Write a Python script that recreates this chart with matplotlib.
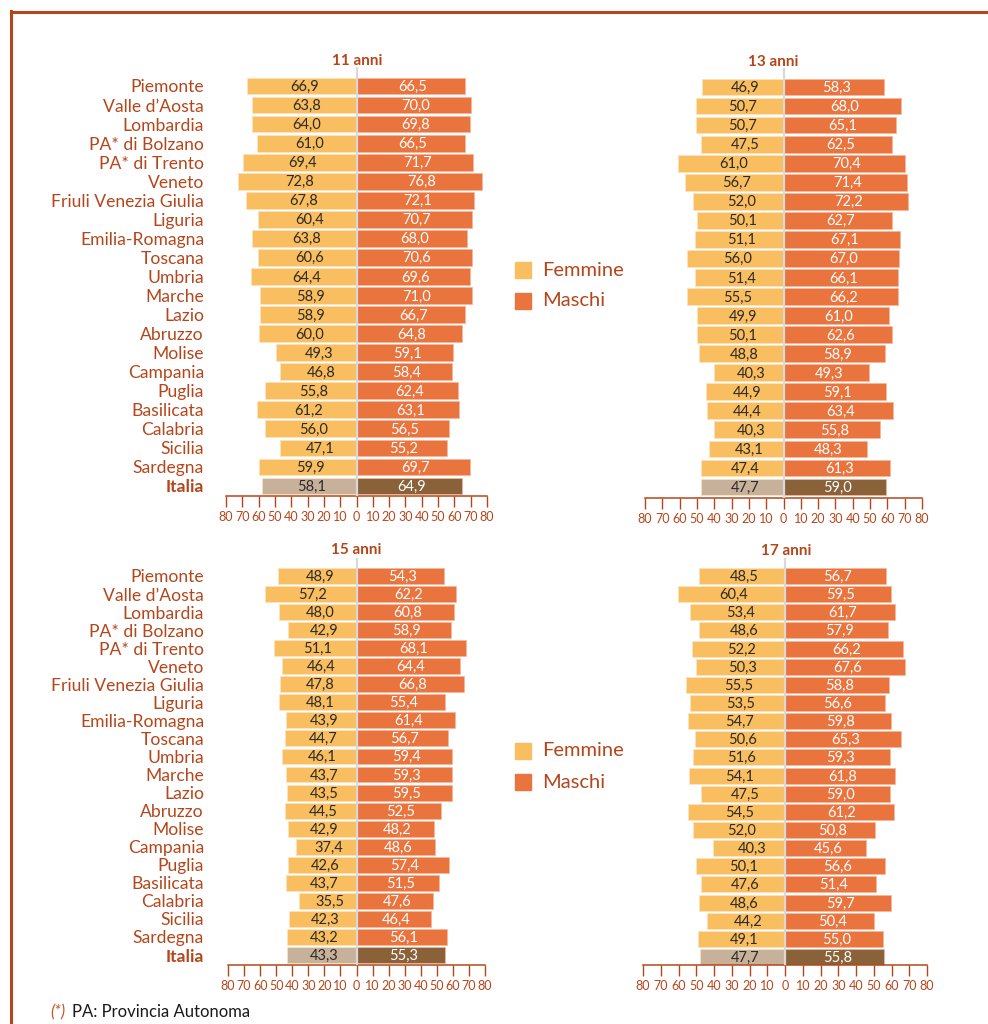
import matplotlib
matplotlib.use("Agg")
import matplotlib.pyplot as plt
from matplotlib.lines import Line2D
from matplotlib.patches import Rectangle

plt.rcParams['font.family'] = ['Lato', 'DejaVu Sans']

regions = ["Piemonte", "Valle d’Aosta", "Lombardia", "PA* di Bolzano", "PA* di Trento",
           "Veneto", "Friuli Venezia Giulia", "Liguria", "Emilia-Romagna", "Toscana",
           "Umbria", "Marche", "Lazio", "Abruzzo", "Molise", "Campania", "Puglia",
           "Basilicata", "Calabria", "Sicilia", "Sardegna", "Italia"]

f11 = [66.9, 63.8, 64.0, 61.0, 69.4, 72.8, 67.8, 60.4, 63.8, 60.6, 64.4, 58.9, 58.9, 60.0,
       49.3, 46.8, 55.8, 61.2, 56.0, 47.1, 59.9, 58.1]
m11 = [66.5, 70.0, 69.8, 66.5, 71.7, 76.8, 72.1, 70.7, 68.0, 70.6, 69.6, 71.0, 66.7, 64.8,
       59.1, 58.4, 62.4, 63.1, 56.5, 55.2, 69.7, 64.9]
f13 = [46.9, 50.7, 50.7, 47.5, 61.0, 56.7, 52.0, 50.1, 51.1, 56.0, 51.4, 55.5, 49.9, 50.1,
       48.8, 40.3, 44.9, 44.4, 40.3, 43.1, 47.4, 47.7]
m13 = [58.3, 68.0, 65.1, 62.5, 70.4, 71.4, 72.2, 62.7, 67.1, 67.0, 66.1, 66.2, 61.0, 62.6,
       58.9, 49.3, 59.1, 63.4, 55.8, 48.3, 61.3, 59.0]
f15 = [48.9, 57.2, 48.0, 42.9, 51.1, 46.4, 47.8, 48.1, 43.9, 44.7, 46.1, 43.7, 43.5, 44.5,
       42.9, 37.4, 42.6, 43.7, 35.5, 42.3, 43.2, 43.3]
m15 = [54.3, 62.2, 60.8, 58.9, 68.1, 64.4, 66.8, 55.4, 61.4, 56.7, 59.4, 59.3, 59.5, 52.5,
       48.2, 48.6, 57.4, 51.5, 47.6, 46.4, 56.1, 55.3]
f17 = [48.5, 60.4, 53.4, 48.6, 52.2, 50.3, 55.5, 53.5, 54.7, 50.6, 51.6, 54.1, 47.5, 54.5,
       52.0, 40.3, 50.1, 47.6, 48.6, 44.2, 49.1, 47.7]
m17 = [56.7, 59.5, 61.7, 57.9, 66.2, 67.6, 58.8, 56.6, 59.8, 65.3, 59.3, 61.8, 59.0, 61.2,
       50.8, 45.6, 56.6, 51.4, 59.7, 50.4, 55.0, 55.8]

titles = ["11 anni", "13 anni", "15 anni", "17 anni"]
ticks = list(range(-80, 81, 10))
tick_labels = [str(abs(t)) for t in ticks]

W, H = 988, 1024
RED = "#b5461b"
F_COL = "#f9be5f"
M_COL = "#ea743e"
F_IT = "#c8b19b"
M_IT = "#8a6239"

fig = plt.figure(figsize=(W / 100, H / 100), dpi=100)

def fx(px):
    return px / W

def fy(py):
    return 1 - py / H

# panel geometry in pixels: x(-80), x(80), y first row, y last row, y axis line, title x, title y
panels = [
    (226, 487, 86, 486, 496, 357, 61, True),
    (645, 922, 87, 487, 498, 773, 62, False),
    (228, 485, 576, 955, 965, 356, 550, True),
    (643, 927, 576, 957, 965, 786, 551, False),
]
data = [(f11, m11), (f13, m13), (f15, m15), (f17, m17)]

n = len(regions)
for (xl, xr, y0, y1, ya, tx, ty, show_lab), (fv, mv), title in zip(panels, data, titles):
    sp = (y1 - y0) / (n - 1)
    top_px = y0 - sp
    ax = fig.add_axes([fx(xl), fy(ya), (xr - xl) / W, (ya - top_px) / H])
    ax.set_xlim(-80, 80)
    ybot = (n - 1) + (ya - y1) / sp
    ax.set_ylim(ybot, -1)
    ypos = list(range(n))
    fcols = [F_COL] * (n - 1) + [F_IT]
    mcols = [M_COL] * (n - 1) + [M_IT]
    ax.barh(ypos, [-v for v in fv], height=0.88, color=fcols, edgecolor="#fde3c0", linewidth=0.5)
    ax.barh(ypos, mv, height=0.88, color=mcols, edgecolor="#f6b79a", linewidth=0.5)
    ax.axvline(0, color="#d9d9d9", lw=1.6, zorder=3)
    for i in range(n):
        ax.text(-fv[i] / 2 + 1.5, i + 0.05, f"{fv[i]:.1f}".replace(".", ","), ha="center", va="center",
                fontsize=10.5, color="#2e2a26", zorder=4)
        ax.text(mv[i] / 2 + 1.5, i + 0.05, f"{mv[i]:.1f}".replace(".", ","), ha="center", va="center",
                fontsize=10.5, color="white", zorder=4)
    for s in ["top", "right", "left"]:
        ax.spines[s].set_visible(False)
    ax.spines["bottom"].set_color(RED)
    ax.spines["bottom"].set_linewidth(1.1)
    ax.set_xticks(ticks)
    ax.set_xticklabels(tick_labels)
    ax.tick_params(axis="x", direction="out", length=8, width=1.0, color=RED,
                   labelcolor=RED, labelsize=9, pad=3)
    if show_lab:
        ax.set_yticks(ypos)
        ax.set_yticklabels(regions)
        ax.tick_params(axis="y", length=0, pad=(xl - 204) * 0.72, labelsize=12.6, labelcolor=RED)
        ax.get_yticklabels()[-1].set_fontweight("bold")
    else:
        ax.set_yticks([])
    ax.patch.set_alpha(0)
    fig.text(fx(tx), fy(ty), title, ha="center", va="center", fontsize=11,
             fontweight="bold", color=RED)

# legends
for yf, ym in [(270, 301), (751, 782)]:
    for yy, col, lab in [(yf, F_COL, "Femmine"), (ym, M_COL, "Maschi")]:
        fig.patches.append(Rectangle((fx(515), fy(yy + 8)), 16 / W, 16 / H,
                                     transform=fig.transFigure, color=col))
        fig.text(fx(542), fy(yy), lab, ha="left", va="center", fontsize=14.5, color=RED)

# footer
fig.text(fx(50), fy(1012), "(*)", ha="left", va="center", fontsize=12,
         style="italic", color="#c4552b")
fig.text(fx(72), fy(1012), "PA: Provincia Autonoma", ha="left", va="center",
         fontsize=12, color="#1a1a1a")

# border
fig.add_artist(Line2D([fx(11), fx(988)], [fy(12), fy(12)], color=RED, lw=2.2,
                      transform=fig.transFigure))
fig.add_artist(Line2D([fx(11), fx(11)], [fy(11), fy(1024)], color=RED, lw=2.2,
                      transform=fig.transFigure))

fig.savefig("out.png", dpi=100)
